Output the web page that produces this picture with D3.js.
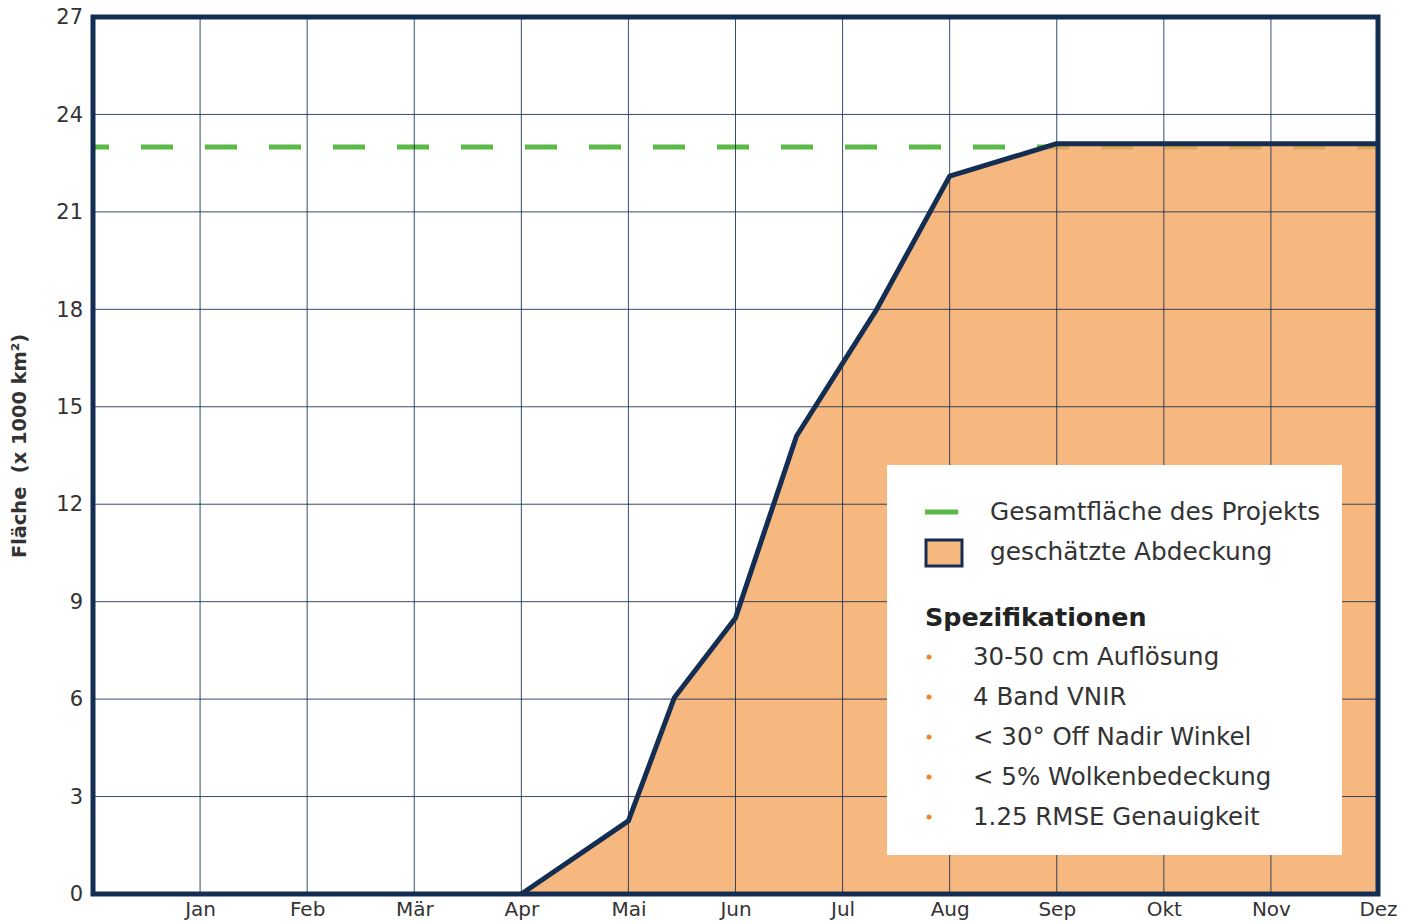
<!DOCTYPE html>
<html>
<head>
<meta charset="utf-8">
<script src="https://cdn.jsdelivr.net/npm/d3@7"></script>
<style>
  body { margin: 0; background: #fff; }
  svg { display: block; font-family: "DejaVu Sans", sans-serif; }
</style>
</head>
<body>
<script>
// month names on the x axis (tick at the end of each month)
const months = ["Jan", "Feb", "Mär", "Apr", "Mai", "Jun", "Jul", "Aug", "Sep", "Okt", "Nov", "Dez"];
// coverage curve: position in months, area in 1000 km²
const coverageMonth = [4, 5, 5.43, 6, 6.57, 7.31, 8, 9, 12];
const coverageValue = [0, 2.25, 6.05, 8.5, 14.1, 17.95, 22.1, 23.1, 23.1];
const projectTotal = 23;
const yTicks = [0, 3, 6, 9, 12, 15, 18, 21, 24, 27];
const specs = ["30-50 cm Auflösung", "4 Band VNIR", "< 30° Off Nadir Winkel", "< 5% Wolkenbedeckung", "1.25 RMSE Genauigkeit"];

const width = 1416, height = 924;
const MARGIN = { top: 17, right: 38, bottom: 30, left: 93 };
const NAVY = "#142d52";
const GREEN = "#5cb947";
const ORANGE = "#f5a65f";
const FONT = "'DejaVu Sans', sans-serif";

const svg = d3.select("body").append("svg")
	.attr("width", width)
	.attr("height", height);

const x = d3.scaleLinear()
	.domain([0, 12])
	.range([MARGIN.left, width - MARGIN.right]);

const y = d3.scaleLinear()
	.domain([0, 27])
	.range([height - MARGIN.bottom, MARGIN.top]);

const data = coverageMonth.map((m, i) => ({ m, v: coverageValue[i] }));

// green target line (under the fill)
svg.append("line")
	.attr("x1", x(0))
	.attr("x2", x(12))
	.attr("y1", y(projectTotal))
	.attr("y2", y(projectTotal))
	.attr("stroke", GREEN)
	.attr("stroke-width", 5)
	.attr("stroke-dasharray", "32,32")
	.attr("stroke-dashoffset", 16);

svg.append("path")
	.datum(data)
	.attr("fill", ORANGE)
	.attr("fill-opacity", 0.8)
	.attr("d", d3.area()
		.x(d => x(d.m))
		.y0(y(0))
		.y1(d => y(d.v)));

// grid on top of fill
const grid = svg.append("g").attr("stroke", NAVY).attr("stroke-width", 1);
grid.selectAll(".h")
	.data(yTicks.slice(1, -1))
	.join("line")
	.attr("class", "h")
	.attr("x1", x(0))
	.attr("x2", x(12))
	.attr("y1", d => y(d))
	.attr("y2", d => y(d))
	.attr("stroke-opacity", 0.85);
grid.selectAll(".v")
	.data(d3.range(1, 12))
	.join("line")
	.attr("class", "v")
	.attr("x1", d => x(d))
	.attr("x2", d => x(d))
	.attr("y1", y(27))
	.attr("y2", y(0))
	.attr("stroke-opacity", 0.85);

svg.append("path")
	.datum(data)
	.attr("fill", "none")
	.attr("stroke", NAVY)
	.attr("stroke-width", 5)
	.attr("stroke-linejoin", "round")
	.attr("d", d3.line()
		.x(d => x(d.m))
		.y(d => y(d.v)));

// frame
svg.append("rect")
	.attr("x", x(0))
	.attr("y", y(27))
	.attr("width", x(12) - x(0))
	.attr("height", y(0) - y(27))
	.attr("fill", "none")
	.attr("stroke", NAVY)
	.attr("stroke-width", 5);

// axes
svg.append("g")
	.attr("transform", `translate(${x(0)},0)`)
	.call(d3.axisLeft(y).tickValues(yTicks).tickSize(0).tickPadding(10))
	.selectAll(".tick text").attr("font-size", 21);
svg.append("g")
	.attr("transform", `translate(0,${y(0)})`)
	.call(d3.axisBottom(x).tickValues(d3.range(1, 13)).tickFormat(d => months[d - 1]).tickSize(0).tickPadding(8))
	.selectAll(".tick text").attr("font-size", 20);
svg.selectAll(".domain").remove();
svg.selectAll(".tick text")
	.attr("font-family", FONT)
	.attr("fill", "#333");

svg.append("text")
	.attr("transform", "translate(26,446) rotate(-90)")
	.attr("text-anchor", "middle")
	.attr("font-size", 19.4)
	.attr("font-weight", "bold")
	.attr("fill", "#333")
	.attr("xml:space", "preserve")
	.text("Fläche  (x 1000 km²)");

// legend
const legend = svg.append("g").attr("transform", "translate(887,465)");
legend.append("rect")
	.attr("width", 455)
	.attr("height", 390)
	.attr("fill", "#fff");
legend.append("line")
	.attr("x1", 38).attr("x2", 71)
	.attr("y1", 47).attr("y2", 47)
	.attr("stroke", GREEN)
	.attr("stroke-width", 5);
legend.append("rect")
	.attr("x", 39).attr("y", 75)
	.attr("width", 36).attr("height", 26)
	.attr("fill", ORANGE)
	.attr("fill-opacity", 0.8)
	.attr("stroke", NAVY)
	.attr("stroke-width", 3);
legend.selectAll(".lt")
	.data(["Gesamtfläche des Projekts", "geschätzte Abdeckung"])
	.join("text")
	.attr("class", "lt")
	.attr("x", 103)
	.attr("y", (d, i) => 55 + i * 40)
	.attr("font-size", 24.8)
	.attr("fill", "#333")
	.text(d => d);
legend.append("text")
	.attr("x", 38)
	.attr("y", 161)
	.attr("font-size", 25.4)
	.attr("font-weight", "bold")
	.attr("fill", "#222")
	.text("Spezifikationen");
const rows = legend.selectAll(".spec")
	.data(specs)
	.join("g")
	.attr("class", "spec")
	.attr("transform", (d, i) => `translate(0,${200 + i * 40})`);
rows.append("circle")
	.attr("cx", 42)
	.attr("cy", -8)
	.attr("r", 2.5)
	.attr("fill", "#f0842a");
rows.append("text")
	.attr("x", 86)
	.attr("font-size", 24.5)
	.attr("fill", "#333")
	.text(d => d);
</script>
</body>
</html>
